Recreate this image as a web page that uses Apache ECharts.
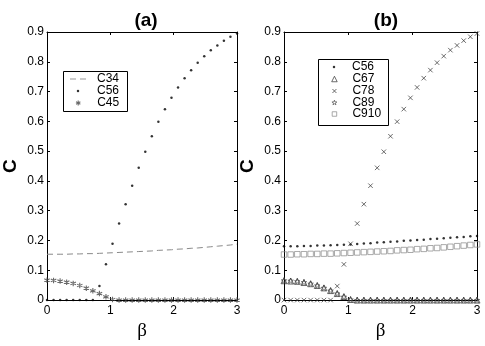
<!DOCTYPE html>
<html>
<head>
<meta charset="utf-8">
<script src="https://cdn.jsdelivr.net/npm/echarts@6/dist/echarts.min.js"></script>
<style>
  html, body { margin: 0; padding: 0; background: #fff; }
  #chart { width: 485px; height: 346px; }
</style>
</head>
<body>
<div id="chart"></div>
<script>
// beta values (30 points from 0 to 3)
var beta = [0, 0.1034, 0.2069, 0.3103, 0.4138, 0.5172, 0.6207, 0.7241, 0.8276, 0.931,
            1.0345, 1.1379, 1.2414, 1.3448, 1.4483, 1.5517, 1.6552, 1.7586, 1.8621, 1.9655,
            2.069, 2.1724, 2.2759, 2.3793, 2.4828, 2.5862, 2.6897, 2.7931, 2.8966, 3];

// panel (a)
var c34a = [0.154, 0.154, 0.154, 0.154, 0.155, 0.155, 0.156, 0.156, 0.157, 0.158,
            0.159, 0.160, 0.161, 0.162, 0.163, 0.164, 0.165, 0.167, 0.168, 0.169,
            0.171, 0.172, 0.174, 0.175, 0.177, 0.179, 0.181, 0.183, 0.185, 0.188];
var c56a = [0, 0, 0, 0, 0, 0, 0, 0, 0.047, 0.120,
            0.189, 0.257, 0.322, 0.384, 0.444, 0.498, 0.550, 0.599, 0.641, 0.679,
            0.714, 0.745, 0.772, 0.797, 0.819, 0.839, 0.855, 0.871, 0.884, 0.895];
var c45a = [0.067, 0.066, 0.064, 0.060, 0.056, 0.049, 0.040, 0.031, 0.022, 0.011,
            0.002, 0, 0, 0, 0, 0, 0, 0, 0, 0,
            0, 0, 0, 0, 0, 0, 0, 0, 0, 0];

// panel (b)
var c56b = [0.181, 0.181, 0.181, 0.182, 0.182, 0.183, 0.183, 0.184, 0.185, 0.186,
            0.187, 0.188, 0.190, 0.191, 0.193, 0.194, 0.196, 0.197, 0.199, 0.200,
            0.202, 0.203, 0.205, 0.206, 0.208, 0.209, 0.211, 0.212, 0.214, 0.215];
var c67b = [0.065, 0.064, 0.063, 0.059, 0.055, 0.049, 0.041, 0.032, 0.022, 0.012,
            0.002, 0, 0, 0, 0, 0, 0, 0, 0, 0,
            0, 0, 0, 0, 0, 0, 0, 0, 0, 0];
var c78b = [0, 0, 0, 0, 0, 0, 0, 0, 0.047, 0.120,
            0.189, 0.257, 0.322, 0.384, 0.444, 0.498, 0.550, 0.599, 0.641, 0.679,
            0.714, 0.745, 0.772, 0.797, 0.819, 0.839, 0.855, 0.871, 0.884, 0.895];
var c89b = [0.066, 0.065, 0.063, 0.060, 0.055, 0.049, 0.041, 0.032, 0.022, 0.011,
            0.002, 0, 0, 0, 0, 0, 0, 0, 0, 0,
            0, 0, 0, 0, 0, 0, 0, 0, 0, 0];
var c910b = [0.153, 0.153, 0.154, 0.154, 0.155, 0.155, 0.156, 0.156, 0.157, 0.158,
             0.159, 0.160, 0.161, 0.162, 0.163, 0.164, 0.165, 0.167, 0.168, 0.169,
             0.171, 0.172, 0.174, 0.175, 0.177, 0.179, 0.181, 0.183, 0.185, 0.187];

var xTicks = [0, 1, 2, 3];

function pts(ys) {
    return beta.map(function (x, i) { return [x, ys[i]]; });
}

var FONT = 'Liberation Sans';
var ASTER = 'path://M5,0L5,10M0.7,2.5L9.3,7.5M0.7,7.5L9.3,2.5';
var CROSS = 'path://M0,0L10,10M0,10L10,0';
var STAR = 'path://M50,0L61,35L98,35L68,57L79,91L50,70L21,91L32,57L2,35L39,35Z';
var DASH = 'path://M0,0H6V1H0ZM10,0H16V1H10Z';
var CLEAR = 'rgba(0,0,0,0)';

var styles = {
    dot: { color: '#000' },
    aster: { color: CLEAR, borderColor: '#444', borderWidth: 1.1 },
    square: { color: CLEAR, borderColor: '#888', borderWidth: 0.9 },
    cross: { color: CLEAR, borderColor: '#333', borderWidth: 0.9 },
    star: { color: CLEAR, borderColor: '#555', borderWidth: 0.9 },
    tri: { color: CLEAR, borderColor: '#333', borderWidth: 0.9 }
};

function xAx(grid, pos, name) {
    return {
        type: 'value', gridIndex: grid, position: pos,
        min: xTicks[0], max: xTicks[xTicks.length - 1], interval: 1,
        name: name, nameLocation: 'middle', nameGap: 13,
        nameTextStyle: { fontFamily: 'Liberation Serif', fontSize: 19, color: '#000', verticalAlign: 'top' },
        axisLine: { show: true, onZero: false, lineStyle: { color: '#000', width: 1 } },
        axisTick: { show: true, inside: true, length: 3, lineStyle: { color: '#000' } },
        axisLabel: { show: pos === 'bottom', fontFamily: FONT, fontSize: 12, color: '#000', margin: 5 },
        splitLine: { show: false }
    };
}
function yAx(grid, pos, name) {
    return {
        type: 'value', gridIndex: grid, position: pos,
        min: 0, max: 0.9, interval: 0.1,
        name: name, nameLocation: 'middle', nameGap: 27,
        nameTextStyle: { fontFamily: FONT, fontSize: 19, fontWeight: 'bold', color: '#000' },
        axisLine: { show: true, onZero: false, lineStyle: { color: '#000', width: 1 } },
        axisTick: { show: true, inside: true, length: 3, lineStyle: { color: '#000' } },
        axisLabel: { show: pos === 'left', fontFamily: FONT, fontSize: 12, color: '#000', margin: 3 },
        splitLine: { show: false }
    };
}
function scat(name, xi, yi, data, symbol, size, style) {
    return {
        name: name, type: 'scatter', xAxisIndex: xi, yAxisIndex: yi,
        data: pts(data), symbol: symbol, symbolSize: size, clip: false,
        itemStyle: style, emphasis: { disabled: true }, silent: true
    };
}
function leg(item, cx, cy, w, h, textX) {
    return {
        data: [item], left: cx - w / 2, top: cy - 7, itemWidth: w, itemHeight: h,
        padding: 0, selectedMode: false,
        textStyle: { fontFamily: FONT, fontSize: 12, lineHeight: 14, color: '#000',
                     padding: [0, 0, 0, textX - (cx + w / 2) - 5] }
    };
}

var myChart = echarts.init(document.getElementById('chart'));

var option = {
    backgroundColor: '#fff',
    animation: false,
    title: [
        { text: '(a)', left: 141, top: 6, textAlign: 'center',
          textStyle: { fontFamily: FONT, fontSize: 19, fontWeight: 'bold', color: '#000' } },
        { text: '(b)', left: 381, top: 6, textAlign: 'center',
          textStyle: { fontFamily: FONT, fontSize: 19, fontWeight: 'bold', color: '#000' } }
    ],
    grid: [
        { left: 44, right: 248, top: 32, bottom: 36 },
        { left: 284, right: 8, top: 32, bottom: 36 }
    ],
    xAxis: [xAx(0, 'bottom', 'β'), xAx(0, 'top', ''), xAx(1, 'bottom', 'β'), xAx(1, 'top', '')],
    yAxis: [yAx(0, 'left', 'C'), yAx(0, 'right', ''), yAx(1, 'left', 'C'), yAx(1, 'right', '')],
    legend: [
        leg({ name: 'C34', icon: DASH, itemStyle: { color: '#999', borderWidth: 0 } }, 78, 79, 16, 1, 97),
        leg({ name: 'C56', icon: 'circle', itemStyle: styles.dot }, 78, 91, 2.5, 2.5, 97),
        leg({ name: 'C45', icon: ASTER, itemStyle: styles.aster }, 78, 103, 5, 5, 97),
        leg({ name: 'C56', icon: 'circle', itemStyle: styles.dot }, 334, 67, 2.5, 2.5, 352),
        leg({ name: 'C67', icon: 'triangle', itemStyle: styles.tri }, 334, 79, 5.5, 5.5, 352),
        leg({ name: 'C78', icon: CROSS, itemStyle: styles.cross }, 334, 91, 4, 4, 352),
        leg({ name: 'C89', icon: STAR, itemStyle: styles.star }, 334, 102.5, 5, 5, 352),
        leg({ name: 'C910', icon: 'rect', itemStyle: styles.square }, 334, 114, 4.5, 4.5, 352)
    ],
    graphic: [
        { type: 'rect', z: 3, shape: { x: 63.5, y: 71.5, width: 64, height: 40 },
          style: { fill: '#fff', stroke: '#000', lineWidth: 1 } },
        { type: 'rect', z: 3, shape: { x: 318.5, y: 59.5, width: 70, height: 66 },
          style: { fill: '#fff', stroke: '#000', lineWidth: 1 } }
    ],
    series: [
        {
            name: 'C34', type: 'line', xAxisIndex: 0, yAxisIndex: 0,
            data: pts(c34a), symbol: 'none', clip: false, silent: true,
            lineStyle: { color: '#8a8a8a', width: 1, type: [6, 4] },
            itemStyle: { color: '#8a8a8a' }
        },
        scat('C56', 0, 0, c56a, 'circle', 2.5, styles.dot),
        scat('C45', 0, 0, c45a, ASTER, 5.5, styles.aster),
        scat('C56', 2, 2, c56b, 'circle', 2.5, styles.dot),
        scat('C910', 2, 2, c910b, 'rect', 5.5, styles.square),
        scat('C78', 2, 2, c78b, CROSS, 4.5, styles.cross),
        scat('C89', 2, 2, c89b, STAR, 5.5, styles.star),
        scat('C67', 2, 2, c67b, 'triangle', 6, styles.tri)
    ]
};

myChart.setOption(option);
</script>
</body>
</html>
